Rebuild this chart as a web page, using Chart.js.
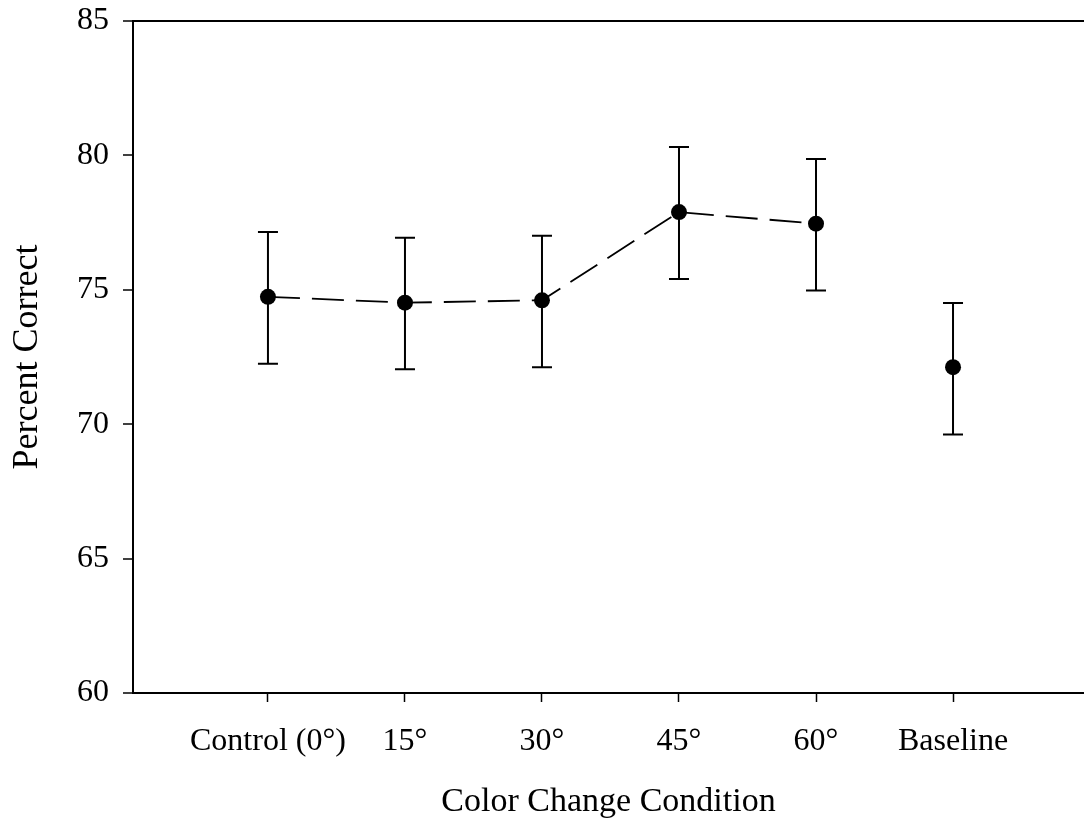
<!DOCTYPE html>
<html>
<head>
<meta charset="utf-8">
<script src="https://cdn.jsdelivr.net/npm/chart.js@4/dist/chart.umd.min.js"></script>
<style>
  html, body { margin: 0; padding: 0; background: #fff; }
  canvas { display: block; }
</style>
</head>
<body>
<canvas id="chart" width="1084" height="831"></canvas>
<script>
const categories = ['Control (0°)', '15°', '30°', '45°', '60°', 'Baseline'];
const percentCorrect = [74.74, 74.52, 74.61, 77.89, 77.46, 72.12];
const errLow = [72.25, 72.04, 72.12, 75.40, 74.97, 69.62];
const errHigh = [77.15, 76.94, 77.01, 80.31, 79.87, 74.51];
const yTicks = [60, 65, 70, 75, 80, 85];

const FONT = '"Liberation Serif", "Times New Roman", serif';

// first five conditions joined by the dashed line, baseline on its own
const linePoints = percentCorrect.slice(0, 5).map((y, i) => ({ x: i, y }));
const basePoints = [{ x: 5, y: percentCorrect[5] }];

const errorBars = {
  id: 'errorBars',
  beforeDatasetsDraw(chart) {
    const { ctx, scales: { x, y } } = chart;
    ctx.save();
    ctx.strokeStyle = '#000';
    ctx.lineWidth = 2;
    categories.forEach((c, i) => {
      const px = x.getPixelForValue(i);
      const top = y.getPixelForValue(errHigh[i]);
      const bot = y.getPixelForValue(errLow[i]);
      ctx.beginPath();
      ctx.moveTo(px, top);
      ctx.lineTo(px, bot);
      ctx.moveTo(px - 10, top);
      ctx.lineTo(px + 10, top);
      ctx.moveTo(px - 10, bot);
      ctx.lineTo(px + 10, bot);
      ctx.stroke();
    });
    ctx.restore();
  }
};

new Chart(document.getElementById('chart'), {
  type: 'scatter',
  data: {
    datasets: [{
      data: linePoints,
      showLine: true,
      borderColor: '#000',
      borderWidth: 1.8,
      borderDash: [32, 12],
      backgroundColor: '#000',
      pointRadius: 8,
      pointBorderWidth: 0,
    }, {
      data: basePoints,
      showLine: false,
      backgroundColor: '#000',
      borderColor: '#000',
      pointRadius: 8,
      pointBorderWidth: 0,
    }]
  },
  options: {
    responsive: false,
    animation: false,
    layout: { autoPadding: false, padding: { left: 0, top: 21, right: 0, bottom: 0 } },
    plugins: {
      legend: { display: false },
      tooltip: { enabled: false }
    },
    scales: {
      x: {
        type: 'linear',
        min: -0.985,
        max: 5.956,
        afterBuildTicks: (scale) => {
          scale.ticks = categories.map((c, i) => ({ value: i }));
        },
        afterFit: (scale) => {
          scale.height = 138;
          scale.paddingLeft = 0;
          scale.paddingRight = 0;
        },
        ticks: {
          callback: (v) => categories[v],
          color: '#000',
          font: { family: FONT, size: 32 },
          padding: 20,
          maxRotation: 0,
          autoSkip: false
        },
        grid: {
          drawOnChartArea: false,
          tickLength: 9,
          tickColor: '#000',
          tickWidth: 1.5
        },
        border: { color: '#000', width: 2 },
        title: {
          display: true,
          text: 'Color Change Condition',
          color: '#000',
          font: { family: FONT, size: 34 },
          padding: { top: 0, bottom: 9 }
        }
      },
      y: {
        min: 60,
        max: 85,
        afterBuildTicks: (scale) => {
          scale.ticks = yTicks.map(v => ({ value: v }));
        },
        afterFit: (scale) => {
          scale.width = 133;
          scale.paddingTop = 0;
          scale.paddingBottom = 0;
        },
        ticks: {
          color: '#000',
          font: { family: FONT, size: 32 },
          padding: 14
        },
        grid: {
          color: (c) => (c.tick && c.tick.value === 85 ? '#000' : 'rgba(0,0,0,0)'),
          lineWidth: 2,
          tickLength: 10,
          tickColor: '#000',
          tickWidth: 1.5
        },
        border: { color: '#000', width: 2 },
        title: {
          display: true,
          text: 'Percent Correct',
          color: '#000',
          font: { family: FONT, size: 36 },
          padding: { top: 6, bottom: 0 }
        }
      }
    }
  },
  plugins: [errorBars]
});
</script>
</body>
</html>
